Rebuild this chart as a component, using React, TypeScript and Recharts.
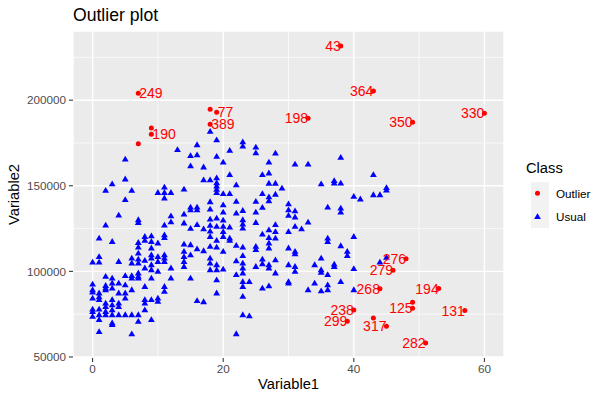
import React from "react";
import { ScatterChart, Scatter, XAxis, YAxis, CartesianGrid } from "recharts";

const FONT = "'Liberation Sans', Arial, sans-serif";

const xTicks = [0, 20, 40, 60];
const yTicks = [50000, 100000, 150000, 200000];
const xMinor = [10, 30, 50];
const yMinor = [75000, 125000, 175000, 225000];
const classNames = ["Outlier", "Usual"];

// flagged points, label "" = no text drawn
const outliers = [
  { x: 7, y: 204100, label: "249" },
  { x: 9, y: 183800, label: "" },
  { x: 9, y: 180100, label: "190" },
  { x: 7, y: 174500, label: "" },
  { x: 18, y: 194700, label: "" },
  { x: 19, y: 193000, label: "77" },
  { x: 18, y: 186000, label: "389" },
  { x: 33, y: 189500, label: "198" },
  { x: 38, y: 231700, label: "43" },
  { x: 43, y: 205400, label: "364" },
  { x: 49, y: 187100, label: "350" },
  { x: 60, y: 192400, label: "330" },
  { x: 48, y: 107300, label: "276" },
  { x: 46, y: 100700, label: "279" },
  { x: 44, y: 89800, label: "268" },
  { x: 53, y: 90000, label: "194" },
  { x: 49, y: 82000, label: "" },
  { x: 49, y: 78500, label: "125" },
  { x: 57, y: 77100, label: "131" },
  { x: 40, y: 77500, label: "238" },
  { x: 39, y: 70900, label: "299" },
  { x: 43, y: 72700, label: "" },
  { x: 45, y: 68000, label: "317" },
  { x: 51, y: 58100, label: "282" },
];

// usual points, grouped by Variable1 value
const usualByX: [number, number[]][] = [
  [0, [105400, 92500, 89200, 87900, 84300, 77900, 76500, 73600]],
  [1, [119400, 108600, 105400, 87300, 85000, 83400, 77900, 74600, 71700, 64800]],
  [2, [147200, 127000, 97000, 91700, 90200, 89200, 81400, 79400, 76500, 74600]],
  [3, [151100, 117400, 96000, 93100, 90200, 83400, 80400, 77500, 74600, 69800, 68800]],
  [4, [132800, 105700, 93100, 87300, 81400, 79400, 74600]],
  [5, [165500, 153900, 141800, 97400, 92100, 87300, 84300, 74600]],
  [6, [147200, 107700, 104800, 97400, 96000, 89200, 74600, 63400]],
  [7, [130100, 128500, 116800, 114100, 110600, 107100, 104800, 99000, 97000, 96000, 74600, 70700]],
  [8, [120300, 118000, 106400, 101900, 91100, 83400, 81400, 77500]],
  [9, [120700, 117400, 113600, 109600, 107700, 103800, 100900, 96000, 83400, 71700]],
  [10, [146000, 116500, 108600, 105700, 99900, 84300, 82400]],
  [11, [149200, 146000, 142800, 127000, 121300, 119700, 109600, 107700, 105700, 91100, 88200]],
  [12, [146000, 132400, 128900, 101900, 96000]],
  [13, [171000]],
  [14, [148000, 133400, 128200, 115900, 111600, 108600, 105700, 102800]],
  [15, [167500, 161600, 137500, 135900, 125000, 115500, 109600, 96000]],
  [16, [173900, 168000, 137500, 135900, 127300, 113100, 82800]],
  [17, [160900, 153400, 124800, 112000, 82200]],
  [18, [181700, 153400, 140600, 136300, 130500, 126800, 123500, 120300, 114500, 107700, 104800, 100900]],
  [19, [176800, 167100, 154600, 151700, 149800, 147900, 145900, 131100, 126200, 118000, 114100, 103800, 100900, 95000, 87300]],
  [20, [163800, 145300, 138800, 134600, 129900, 126200, 123200, 120300, 111600, 101300]],
  [21, [170600, 156400, 145300, 125800, 119400, 118000]],
  [22, [150500, 140800, 134000, 115100, 106100, 98000, 63500]],
  [23, [175600, 173100, 135500, 130100, 127600, 125200, 114100, 109100, 104800, 101900, 99000, 94000, 91100, 85300, 74600]],
  [24, [94000, 74000]],
  [25, [172500, 169200, 140800, 134600, 128500, 114500, 112600, 102800]],
  [26, [156400, 145300, 137300, 121700, 107100, 104400, 90200]],
  [27, [163800, 157400, 151400, 143500, 141200, 124200, 119600, 116500, 113600, 103800, 101900, 91500]],
  [28, [169000, 151400, 145000, 127200, 123200, 119400, 106700, 99000]],
  [29, [148600]],
  [30, [139400, 135900, 132700, 123200, 113600, 103800, 94000, 93100]],
  [31, [162600, 135300, 131700, 126200, 111600, 110200, 102800, 99900]],
  [32, [124800]],
  [33, [162600, 128700, 89200]],
  [34, [103800, 93100]],
  [35, [151100, 107700, 100900, 99300, 88600]],
  [36, [137500, 119400, 117400, 98000, 92100, 89200]],
  [37, [153000, 151500, 104200, 102800]],
  [38, [166500, 151500, 136900, 134600, 114900, 94000]],
  [39, [111600, 109200]],
  [40, [143700, 120300, 101500, 89200]],
  [41, [142200]],
  [43, [156400, 144700]],
  [44, [144700, 105400]],
  [45, [148800, 147400, 108100]],
];

const usualData = usualByX.flatMap(([x, ys]) => ys.map((y) => ({ x, y })));

const triangle = (cx: number, cy: number, fill: string) => (
  <polygon
    points={`${cx},${cy - 3.5} ${cx + 3.4},${cy + 2.3} ${cx - 3.4},${cy + 2.3}`}
    fill={fill}
  />
);

const UsualShape = (props: any) => {
  const { cx, cy } = props;
  return triangle(cx, cy, "#0000FF");
};

const OutlierShape = (props: any) => {
  const { cx, cy, payload } = props;
  const right = payload.x < 25;
  return (
    <g>
      <circle cx={cx} cy={cy} r={2.5} fill="#FF0000" />
      {payload.label && (
        <text
          x={right ? cx + 1 : cx}
          y={cy}
          dy="0.36em"
          textAnchor={right ? "start" : "end"}
          fill="#FF0000"
          fontSize={14}
          fontFamily={FONT}
        >
          {payload.label}
        </text>
      )}
    </g>
  );
};

const tickStyle = { fill: "#4D4D4D", fontSize: 11.7, fontFamily: FONT };

export default function App() {
  return (
    <div style={{ position: "absolute", left: 0, top: 0, width: 607, height: 399 }}>
      <ScatterChart
        width={607}
        height={399}
        margin={{ top: 31, right: 103, bottom: 0, left: 0 }}
      >
        <CartesianGrid
          fill="#EBEBEB"
          stroke="#FFFFFF"
          strokeWidth={0.71}
          horizontalValues={yMinor}
          verticalValues={xMinor}
        />
        <CartesianGrid stroke="#FFFFFF" strokeWidth={1.42} />
        <XAxis
          type="number"
          dataKey="x"
          domain={[-3, 63]}
          ticks={xTicks}
          axisLine={false}
          tickLine={{ stroke: "#333333", strokeWidth: 1.07 }}
          tickSize={4}
          tickMargin={3}
          tick={tickStyle}
          height={41}
        />
        <YAxis
          type="number"
          dataKey="y"
          domain={[49400, 240400]}
          ticks={yTicks}
          axisLine={false}
          tickLine={{ stroke: "#333333", strokeWidth: 1.07 }}
          tickSize={4}
          tickMargin={3}
          tick={tickStyle}
          width={73}
        />
        <Scatter data={usualData} shape={UsualShape} isAnimationActive={false} />
        <Scatter data={outliers} shape={OutlierShape} isAnimationActive={false} />
      </ScatterChart>
      <svg
        width={607}
        height={399}
        style={{ position: "absolute", left: 0, top: 0, pointerEvents: "none" }}
        fontFamily={FONT}
      >
        <text x={73} y={21} fontSize={17.6} fill="#000">
          Outlier plot
        </text>
        <text x={288.5} y={389} fontSize={14.7} textAnchor="middle" fill="#000">
          Variable1
        </text>
        <text
          x={19}
          y={194.5}
          fontSize={14.7}
          textAnchor="middle"
          fill="#000"
          transform="rotate(-90 19 194.5)"
        >
          Variable2
        </text>
        <text x={526} y={173} fontSize={14.7} fill="#000">
          Class
        </text>
        <rect x={531} y={182} width={18} height={46} fill="#F2F2F2" />
        <circle cx={537.5} cy={193.3} r={2.5} fill="#FF0000" />
        {triangle(537.5, 216.7, "#0000FF")}
        <text x={556} y={193.3} dy="0.36em" fontSize={11.7} fill="#000">
          {classNames[0]}
        </text>
        <text x={556} y={216.7} dy="0.36em" fontSize={11.7} fill="#000">
          {classNames[1]}
        </text>
      </svg>
    </div>
  );
}
